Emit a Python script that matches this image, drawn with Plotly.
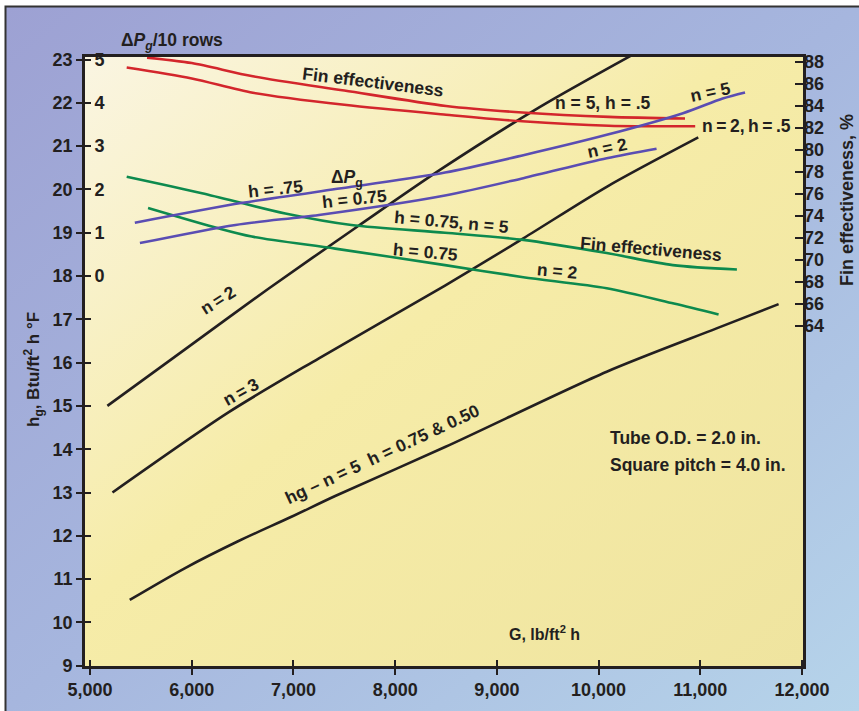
import base64
import plotly.graph_objects as go

W, H = 859, 711

# ---------------- data ----------------
G_ticks = [5000, 6000, 7000, 8000, 9000, 10000, 11000, 12000]
hg_ticks = list(range(9, 24))
dp_tick_vals = list(range(-9, 6))
dp_tick_text = [""] * 9 + ["0", "1", "2", "3", "4", "5"]
fe_ticks = list(range(64, 89, 2))

# Fin effectiveness, h = .5 (red, right axis %)
fe_n5_h05_G = [5560, 6000, 6600, 7500, 8500, 9250, 10100, 10850]
fe_n5_h05 = [88.4, 87.9, 86.7, 85.4, 84.0, 83.4, 83.0, 82.85]
fe_n2_h05_G = [5360, 6000, 6600, 7500, 8500, 9250, 10100, 10950]
fe_n2_h05 = [87.5, 86.5, 85.2, 84.1, 83.2, 82.6, 82.2, 82.15]

# Fin effectiveness, h = 0.75 (green, right axis %)
fe_n5_h075_G = [5360, 6100, 6920, 7570, 8490, 9260, 10080, 10730, 11360]
fe_n5_h075 = [77.55, 76.05, 74.2, 73.15, 72.45, 71.8, 70.6, 69.5, 69.1]
fe_n2_h075_G = [5570, 6260, 6590, 7410, 8490, 9260, 10080, 10740, 11180]
fe_n2_h075 = [74.7, 72.85, 72.1, 71.0, 69.5, 68.4, 67.4, 66.0, 65.0]

# Delta Pg / 10 rows, h = 0.75 (purple, inner left axis)
dp_n5_G = [5440, 6500, 7570, 8490, 9260, 10080, 10830, 11220, 11440]
dp_n5 = [1.23, 1.69, 2.06, 2.39, 2.79, 3.26, 3.76, 4.10, 4.24]
dp_n2_G = [5490, 6430, 7250, 8490, 9260, 10080, 10570]
dp_n2 = [0.76, 1.18, 1.41, 1.86, 2.26, 2.72, 2.94]

# hg (black, left axis)
hg_n2_G = [5170, 5930, 6750, 7640, 8440, 9420, 10350]
hg_n2 = [15.0, 16.3, 17.7, 19.16, 20.45, 21.9, 23.13]
hg_n3_G = [5220, 6360, 7250, 8490, 9260, 10080, 10980]
hg_n3 = [13.0, 14.85, 16.1, 17.78, 18.87, 20.06, 21.2]
hg_n5_G = [5390, 5930, 6460, 6980, 7410, 8490, 10080, 11160, 11770]
hg_n5 = [10.52, 11.25, 11.88, 12.44, 12.92, 14.05, 15.79, 16.79, 17.35]

# ---------------- styling ----------------
INK = "#231f20"
RED = "#d3262c"
PURPLE = "#5a4db3"
GREEN = "#0d8a4e"
FONT = "Liberation Sans, Arial, sans-serif"
TS = "\u2009"  # thin space

# plot box in pixels
PL, PR, PT, PB = 85, 803, 57, 666
X_RANGE = [4950, 12010]
HG_RANGE = [8.993, 23.058]
DP_OFFSET = 18.0
DP_RANGE = [HG_RANGE[0] - DP_OFFSET, HG_RANGE[1] - DP_OFFSET]
FE_RANGE = [32.99, 88.455]


def svg_uri(stops):
    st = "".join(f'<stop offset="{o}" stop-color="{c}"/>' for o, c in stops)
    svg = ('<svg xmlns="http://www.w3.org/2000/svg" viewBox="0 0 100 100" '
           'preserveAspectRatio="none"><defs><linearGradient id="g" x1="0" y1="0" '
           f'x2="1" y2="1">{st}</linearGradient></defs>'
           '<rect x="0" y="0" width="100" height="100" fill="url(#g)"/></svg>')
    return "data:image/svg+xml;base64," + base64.b64encode(svg.encode()).decode()


fig = go.Figure()


def line(xs, ys, color, yaxis="y"):
    fig.add_trace(go.Scatter(x=xs, y=ys, mode="lines", yaxis=yaxis,
                             line=dict(color=color, width=2.6, shape="spline", smoothing=0.8),
                             hoverinfo="skip", showlegend=False))


line(fe_n5_h05_G, fe_n5_h05, RED, "y2")
line(fe_n2_h05_G, fe_n2_h05, RED, "y2")
line(fe_n5_h075_G, fe_n5_h075, GREEN, "y2")
line(fe_n2_h075_G, fe_n2_h075, GREEN, "y2")
line(dp_n5_G, dp_n5, PURPLE, "y3")
line(dp_n2_G, dp_n2, PURPLE, "y3")
line(hg_n2_G, hg_n2, INK)
line(hg_n3_G, hg_n3, INK)
line(hg_n5_G, hg_n5, INK)
# anchor trace for the overlay x axis (inner tick marks)
fig.add_trace(go.Scatter(x=[None], y=[None], xaxis="x2", yaxis="y",
                         showlegend=False, hoverinfo="skip"))

tickfont = dict(family=FONT, size=18, color=INK, weight="bold")
xdom = [PL / W, PR / W]
ydom = [1 - PB / H, 1 - PT / H]
common = dict(showgrid=False, zeroline=False, automargin=False,
              ticklabeloverflow="allow", tickwidth=2, tickcolor=INK, tickfont=tickfont)

fig.update_layout(
    width=W, height=H,
    margin=dict(l=0, r=0, t=0, b=0, pad=0, autoexpand=False),
    paper_bgcolor="rgba(0,0,0,0)",
    plot_bgcolor="rgba(0,0,0,0)",
    font=dict(family=FONT, size=17.5, color=INK, weight="bold"),
    showlegend=False,
    xaxis=dict(domain=xdom, range=X_RANGE, tickvals=G_ticks, tickformat=",d",
               ticks="outside", ticklen=6, showline=True, linewidth=2.6,
               linecolor=INK, mirror=True, anchor="y", **common),
    xaxis2=dict(overlaying="x", anchor="y", side="bottom", range=X_RANGE,
                tickvals=G_ticks, ticks="inside", ticklen=6,
                showticklabels=False, showline=False, **common),
    yaxis=dict(domain=ydom, range=HG_RANGE, tickvals=hg_ticks,
               ticks="outside", ticklen=6, showline=True, linewidth=2.6,
               linecolor=INK, mirror=True, anchor="x", **common),
    yaxis2=dict(overlaying="y", side="right", anchor="x", range=FE_RANGE,
                tickvals=fe_ticks, ticks="inside", ticklen=8,
                showline=False, **common),
    yaxis3=dict(overlaying="y", side="left", anchor="x", range=DP_RANGE,
                tickvals=dp_tick_vals, ticktext=dp_tick_text, ticks="inside",
                ticklen=6, ticklabelposition="inside", ticklabelstandoff=4,
                showline=False, **common),
)

# backgrounds
fig.add_layout_image(dict(source=svg_uri([(0, "#9da1d3"), (0.5, "#a6b6de"), (1, "#b6d4ea")]),
                          xref="paper", yref="paper", x=5 / W, y=1 - 7 / H,
                          sizex=1 - 5 / W, sizey=1 - 7 / H, xanchor="left", yanchor="top",
                          sizing="stretch", layer="below"))
fig.add_layout_image(dict(source=svg_uri([(0, "#faf5e2"), (0.45, "#f6eca8"), (1, "#efe49f")]),
                          xref="paper", yref="paper", x=xdom[0], y=ydom[1],
                          sizex=xdom[1] - xdom[0], sizey=ydom[1] - ydom[0],
                          xanchor="left", yanchor="top", sizing="stretch", layer="below"))
# outer frame
fig.add_shape(type="rect", xref="paper", yref="paper", x0=5.5 / W, x1=1.05,
              y0=-0.05, y1=1 - 6.5 / H, line=dict(color="#333333", width=2),
              fillcolor="rgba(0,0,0,0)", layer="above")


def label(text, G, hg, angle=0, xanchor="center", size=17.5):
    fig.add_annotation(x=G, y=hg, xref="x", yref="y", text=text, showarrow=False,
                       textangle=angle, xanchor=xanchor, yanchor="middle",
                       font=dict(size=size))


label("Fin effectiveness", 7783, 22.48, 7)
label("n = 5, h = .5", 10044, 22.0)
label("n = 5", 11096, 22.25, -12)
label(f"n{TS}={TS}2,{TS}h{TS}={TS}.5", 10998, 21.46, 0, "left")
label("n = 2", 10084, 20.95, -12)
label("h = .75", 6819, 20.02, -6)
label("Δ<i>P</i><sub>g</sub>", 7527, 20.26)
label("h = 0.75", 7596, 19.78, -6)
label("h = 0.75, n = 5", 8550, 19.25, 5)
label("h = 0.75", 8294, 18.55, 5)
label("Fin effectiveness", 10516, 18.62, 5)
label("n = 2", 9592, 18.12, 5)
label(f"n{TS}={TS}2", 6260, 17.45, -32)
label(f"n{TS}={TS}3", 6480, 15.32, -29)
label("hg – n = 5\u00a0\u00a0h = 0.75 & 0.50", 7875, 13.9, -25)
label("Tube O.D. = 2.0 in.", 10093, 14.26, 0, "left")
label("Square pitch = 4.0 in.", 10093, 13.64, 0, "left")
label("G, lb/ft<sup>2</sup> h", 9464, 9.76, 0, "center", 16)


def paper_text(text, px, py, angle=0, size=17.5):
    fig.add_annotation(x=px / W, y=1 - py / H, xref="paper", yref="paper",
                       text=text, showarrow=False, textangle=angle,
                       xanchor="center", yanchor="middle", font=dict(size=size))


paper_text("Δ<i>P<sub>g</sub></i>/10 rows", 172, 42)
paper_text("h<sub>g</sub>, Btu/ft<sup>2</sup> h °F", 33, 370, -90, 17)
paper_text("Fin effectiveness, %", 847, 200, -90, 18)

fig.write_html("out.html", config={"displayModeBar": False},
               post_script="document.body.style.margin='0px';document.body.style.overflow='hidden';")
